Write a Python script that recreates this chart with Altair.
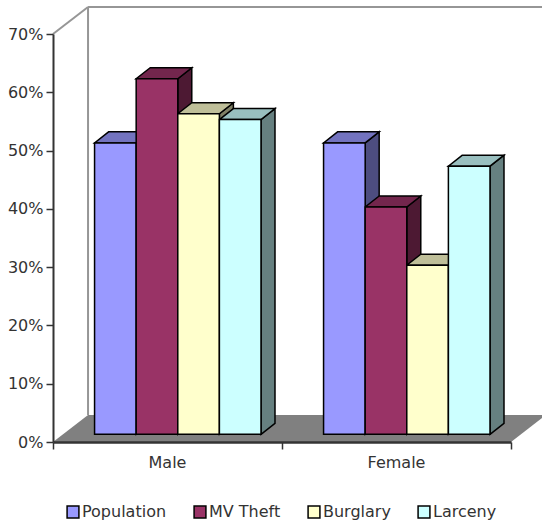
import altair as alt
import pandas as pd

# Share of each group, in percent
categories = ["Male", "Female"]
series = ["Population", "MV Theft", "Burglary", "Larceny"]
male_values = [50, 61, 55, 54]
female_values = [50, 39, 29, 46]

front_colors = ["#9999FF", "#993366", "#FFFFCC", "#CCFFFF"]
top_colors = ["#7373BF", "#73264D", "#BFBF99", "#99BFBF"]
side_colors = ["#4D4D80", "#4D1933", "#808066", "#668080"]

FONT = "DejaVu Sans"
TEXT = "#333333"
WALL = "#969696"

# Oblique projection: how far the depth axis moves in x and y data units
DEPTH_X = 0.153
DEPTH_Y = 0.0464
GAP_Y = 0.0132
BAR_DX = 0.0611
BAR_DY = 0.0189
BAR_W = 0.1817
MARGIN = 0.1815

fronts, sides, tops = [], [], []
for g, values in enumerate([male_values, female_values]):
    for i, value in enumerate(values):
        left = g + MARGIN + i * BAR_W
        right = left + BAR_W
        top = GAP_Y + value / 100
        bar = f"{g}-{i}"
        fronts.append({"series": series[i], "x": left, "x2": right, "y": GAP_Y, "y2": top})
        sides.append({"bar": bar, "fill": side_colors[i], "x": right, "y": GAP_Y, "y2": top})
        sides.append({"bar": bar, "fill": side_colors[i], "x": right + BAR_DX,
                      "y": GAP_Y + BAR_DY, "y2": top + BAR_DY})
        tops.append({"bar": bar, "fill": top_colors[i], "y": top, "x": left, "x2": right})
        tops.append({"bar": bar, "fill": top_colors[i], "y": top + BAR_DY,
                     "x": left + BAR_DX, "x2": right + BAR_DX})

x_axis = alt.Axis(values=[0, 1, 2], labels=False, ticks=True, tickSize=7, tickWidth=1.5,
                  tickColor=TEXT, domainColor=TEXT, domainWidth=2.5, grid=False, zindex=1, title=None)
y_axis = alt.Axis(values=[i / 10 for i in range(8)], format=".0%", tickSize=7, tickWidth=1.5,
                  tickColor=TEXT, domainColor=TEXT, domainWidth=2, labelFont=FONT, labelFontSize=16,
                  labelColor=TEXT, labelPadding=3, grid=False, zindex=1, title=None)
x_scale = alt.Scale(domain=[0, 2], nice=False, zero=False)
y_scale = alt.Scale(domain=[0, 0.7], nice=False, zero=False)
X = alt.X("x:Q", scale=x_scale, axis=x_axis, title=None)
Y = alt.Y("y:Q", scale=y_scale, axis=y_axis, title=None)

# Floor of the box
floor = alt.Chart(pd.DataFrame([
    {"y": 0, "x": 0, "x2": 2},
    {"y": DEPTH_Y, "x": DEPTH_X, "x2": 2 + DEPTH_X},
])).mark_area(orient="horizontal", color="#808080").encode(
    x=X, x2="x2:Q", y=Y
)

# Edges of the back and side walls
walls = alt.Chart(pd.DataFrame([
    {"x": 0, "x2": DEPTH_X, "y": 0.7, "y2": 0.7 + DEPTH_Y},
    {"x": DEPTH_X, "x2": DEPTH_X, "y": DEPTH_Y, "y2": 0.7 + DEPTH_Y},
    {"x": DEPTH_X, "x2": 2 + DEPTH_X, "y": 0.7 + DEPTH_Y, "y2": 0.7 + DEPTH_Y},
])).mark_rule(color=WALL, strokeWidth=2).encode(x=X, x2="x2:Q", y=Y, y2="y2:Q")

side_faces = alt.Chart(pd.DataFrame(sides)).mark_area(stroke="black", strokeWidth=1.5).encode(
    x=X, y=Y, y2="y2:Q", fill=alt.Fill("fill:N", scale=None), detail="bar:N"
)

top_faces = alt.Chart(pd.DataFrame(tops)).mark_area(
    orient="horizontal", stroke="black", strokeWidth=1.5
).encode(
    x=X, x2="x2:Q", y=Y, fill=alt.Fill("fill:N", scale=None), detail="bar:N"
)

front_faces = alt.Chart(pd.DataFrame(fronts)).mark_rect(stroke="black", strokeWidth=1.5).encode(
    x=X, x2="x2:Q", y=Y, y2="y2:Q",
    color=alt.Color(
        "series:N",
        scale=alt.Scale(domain=series, range=front_colors),
        legend=alt.Legend(
            title=None, orient="none", legendX=12, legendY=470, direction="horizontal",
            columns=4, gridAlign="none", columnPadding=24, symbolType="square", symbolSize=140,
            symbolStrokeColor="black", symbolStrokeWidth=1.5, labelFont=FONT, labelFontSize=16,
            labelColor=TEXT, labelOffset=1,
        ),
    ),
)

category_labels = alt.Chart(pd.DataFrame({
    "x": [i + 0.5 for i in range(len(categories))], "label": categories,
})).mark_text(font=FONT, fontSize=16, color=TEXT, baseline="middle").encode(
    x=X, y=alt.value(429), text="label:N"
)

chart = alt.layer(floor, walls, side_faces, top_faces, front_faces, category_labels).properties(
    width=458, height=408, background="white",
    padding={"left": 53, "top": 34, "right": 31, "bottom": 80},
    autosize=alt.AutoSizeParams(type="none"),
).configure_view(stroke=None)

chart.save("out.html", embed_options={"renderer": "svg", "actions": False})
